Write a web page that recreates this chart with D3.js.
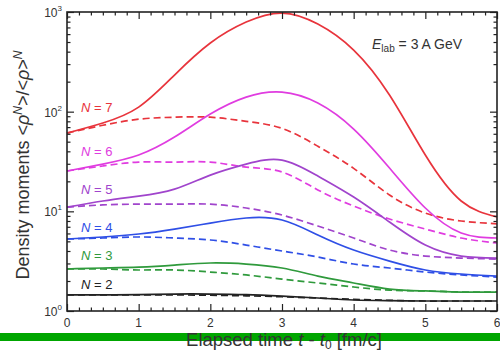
<!DOCTYPE html>
<html>
<head>
<meta charset="utf-8">
<script src="https://cdn.jsdelivr.net/npm/d3@7"></script>
<style>
  html, body { margin: 0; padding: 0; background: #fff; }
  svg { display: block; font-family: "Liberation Sans", Arial, sans-serif; }
</style>
</head>
<body>
<svg id="chart" width="500" height="353"></svg>
<script>
// Elapsed time samples [fm/c]
const times = [0, 0.5, 1, 1.5, 2, 2.5, 3, 3.5, 4, 4.5, 5, 5.5, 6];

// Density moments <rho^N>/<rho>^N, solid and dashed variants for each order N
const n7Solid  = [61, 77, 111, 233, 488, 792, 975, 757, 415, 147, 36.7, 12.7, 8.8];
const n7Dashed = [61, 73, 84, 88, 88, 80, 68, 45, 27, 14.6, 9.6, 8.0, 7.5];
const n6Solid  = [25.4, 29.8, 36.7, 55.6, 94.6, 140, 157, 122, 66.9, 27.2, 10.8, 6.06, 5.4];
const n6Dashed = [25.4, 28.5, 31.2, 31.2, 31.2, 27.8, 24.8, 16.4, 11.3, 8.37, 6.64, 5.4, 4.81];
const n5Solid  = [11.0, 12.7, 14.2, 16.7, 23.1, 29.8, 32.7, 22.6, 13.9, 7.81, 4.59, 3.56, 3.4];
const n5Dashed = [11.0, 11.6, 11.8, 11.8, 11.8, 10.8, 9.18, 7.12, 5.4, 4.09, 3.56, 3.4, 3.32];
const n4Solid  = [5.28, 5.53, 5.92, 6.64, 7.63, 8.57, 8.18, 5.79, 4.09, 3.17, 2.58, 2.35, 2.24];
const n4Dashed = [5.28, 5.4, 5.53, 5.4, 5.16, 4.59, 4.0, 3.48, 2.96, 2.7, 2.46, 2.3, 2.19];
const n3Solid  = [2.64, 2.7, 2.76, 2.89, 3.03, 2.96, 2.7, 2.24, 1.91, 1.66, 1.59, 1.55, 1.55];
const n3Dashed = [2.64, 2.64, 2.58, 2.58, 2.46, 2.3, 2.09, 1.91, 1.74, 1.62, 1.59, 1.55, 1.55];
const n2Solid  = [1.45, 1.45, 1.46, 1.48, 1.48, 1.46, 1.41, 1.35, 1.29, 1.27, 1.26, 1.26, 1.26];
const n2Dashed = [1.45, 1.45, 1.45, 1.45, 1.44, 1.42, 1.39, 1.35, 1.31, 1.28, 1.26, 1.26, 1.26];

const orders = [7, 6, 5, 4, 3, 2];
const orderColors = ["#e8343c", "#e03ce0", "#a044cc", "#2f4fe6", "#2f9a3c", "#222222"];
const solidSeries = [n7Solid, n6Solid, n5Solid, n4Solid, n3Solid, n2Solid];
const dashedSeries = [n7Dashed, n6Dashed, n5Dashed, n4Dashed, n3Dashed, n2Dashed];
const orderLabelAt = [107, 151, 189, 227, 255, 284];

const xTicks = [0, 1, 2, 3, 4, 5, 6];
const yDecades = [1, 10, 100, 1000];
const yExponents = ["0", "1", "2", "3"];

const svg = d3.select("#chart");
const plotLeft = 67, plotRight = 497, plotTop = 12, plotBottom = 311;

const x = d3.scaleLinear().domain([0, 6]).range([plotLeft, plotRight]);
const y = d3.scaleLog().domain([1, 1000]).range([plotBottom, plotTop]);

// Green band along the bottom
svg.append("rect").attr("x", 0).attr("y", 333).attr("width", 500).attr("height", 8)
  .attr("fill", "#00a600");

// Curves
const line = d3.line()
  .x((d, i) => x(times[i]))
  .y(d => y(d))
  .curve(d3.curveNatural);

const curves = svg.append("g").attr("fill", "none").attr("stroke-width", 1.7);
orders.forEach((n, k) => {
  curves.append("path").attr("d", line(dashedSeries[k]))
    .attr("stroke", orderColors[k]).attr("stroke-dasharray", "7,4");
  curves.append("path").attr("d", line(solidSeries[k]))
    .attr("stroke", orderColors[k]);
});

// Minor tick positions
const xMinor = d3.range(0, 37).map(i => i / 6).filter(v => Math.abs(v - Math.round(v)) > 1e-6);
const yMinor = [];
[1, 10, 100].forEach(dec => { for (let m = 2; m <= 9; m++) yMinor.push(dec * m); });

function axisGroup(axis, tx, ty) {
  const g = svg.append("g").attr("transform", `translate(${tx},${ty})`).call(axis);
  g.selectAll("path.domain").remove();
  g.selectAll("line").attr("stroke", "#222").attr("stroke-width", 1.2);
  g.selectAll("text").remove();
  return g;
}

axisGroup(d3.axisBottom(x).tickValues(xTicks).tickSize(-7).tickFormat(""), 0, plotBottom);
axisGroup(d3.axisBottom(x).tickValues(xMinor).tickSize(-3.5).tickFormat(""), 0, plotBottom);
axisGroup(d3.axisTop(x).tickValues(xTicks).tickSize(-7).tickFormat(""), 0, plotTop);
axisGroup(d3.axisTop(x).tickValues(xMinor).tickSize(-3.5).tickFormat(""), 0, plotTop);
axisGroup(d3.axisLeft(y).tickValues(yDecades).tickSize(-7).tickFormat(""), plotLeft, 0);
axisGroup(d3.axisLeft(y).tickValues(yMinor).tickSize(-3.5).tickFormat(""), plotLeft, 0);
axisGroup(d3.axisRight(y).tickValues(yDecades).tickSize(-7).tickFormat(""), plotRight, 0);
axisGroup(d3.axisRight(y).tickValues(yMinor).tickSize(-3.5).tickFormat(""), plotRight, 0);

// Frame
svg.append("rect").attr("x", plotLeft).attr("y", plotTop)
  .attr("width", plotRight - plotLeft).attr("height", plotBottom - plotTop)
  .attr("fill", "none").attr("stroke", "#222").attr("stroke-width", 1.6);

// X tick labels
svg.append("g").selectAll("text").data(xTicks).join("text")
  .attr("x", d => x(d)).attr("y", 327)
  .attr("text-anchor", "middle").attr("font-size", 12).attr("fill", "#333")
  .text(d => d);

// Y tick labels (powers of ten)
const yl = svg.append("g").selectAll("text").data(yDecades).join("text")
  .attr("x", plotLeft - 5).attr("y", d => y(d) + 5)
  .attr("text-anchor", "end").attr("font-size", 12).attr("fill", "#333");
yl.append("tspan").text("10");
yl.append("tspan").attr("dy", -6).attr("font-size", 8).text((d, i) => yExponents[i]);

// Order labels
orders.forEach((n, k) => {
  const t = svg.append("text").attr("x", 81).attr("y", orderLabelAt[k] + 5)
    .attr("font-size", 13).attr("fill", orderColors[k]);
  t.append("tspan").attr("font-style", "italic").text("N");
  t.append("tspan").text(" = " + n);
});

// Beam energy annotation
const e = svg.append("text").attr("x", 372).attr("y", 49).attr("font-size", 14).attr("fill", "#333");
e.append("tspan").attr("font-style", "italic").text("E");
e.append("tspan").attr("dy", 3).attr("font-size", 10).text("lab");
e.append("tspan").attr("dy", -3).text(" = 3 A GeV");

// Axis titles
const xt = svg.append("text").attr("x", 284).attr("y", 346).attr("text-anchor", "middle")
  .attr("font-size", 18.5).attr("fill", "#333");
xt.append("tspan").text("Elapsed time ");
xt.append("tspan").attr("font-style", "italic").text("t");
xt.append("tspan").text(" - ");
xt.append("tspan").attr("font-style", "italic").text("t");
xt.append("tspan").attr("dy", 3).attr("font-size", 12).text("0");
xt.append("tspan").attr("dy", -3).text(" [fm/c]");

const yt = svg.append("text").attr("transform", "translate(29,165) rotate(-90)")
  .attr("text-anchor", "middle").attr("font-size", 18).attr("fill", "#333");
yt.append("tspan").text("Density moments <");
yt.append("tspan").attr("font-style", "italic").text("ρ");
yt.append("tspan").attr("dy", -7).attr("font-size", 12).attr("font-style", "italic").text("N");
yt.append("tspan").attr("dy", 7).text(">/<");
yt.append("tspan").attr("font-style", "italic").text("ρ");
yt.append("tspan").text(">");
yt.append("tspan").attr("dy", -7).attr("font-size", 12).attr("font-style", "italic").text("N");
</script>
</body>
</html>
